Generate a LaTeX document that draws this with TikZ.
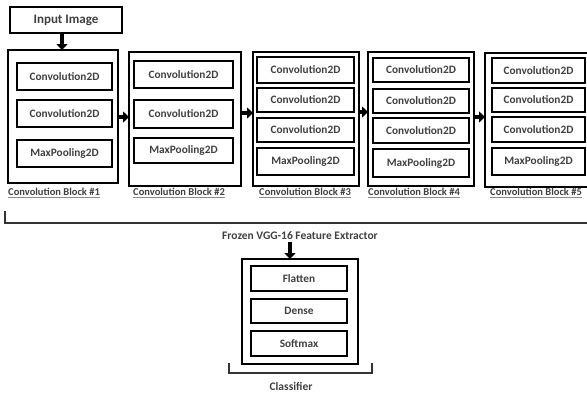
\documentclass[tikz,border=0pt]{standalone}
\usepackage{fontspec}
\setmainfont{Carlito}
\usetikzlibrary{arrows.meta}
\begin{document}
\begin{tikzpicture}[x=1pt,y=-1pt,
  outerbox/.style={draw,line width=2.2pt,inner sep=0pt,outer sep=0pt,anchor=north west},
  innerbox/.style={draw,line width=1.6pt,inner sep=0pt,outer sep=0pt,anchor=north west,font=\bfseries\fontsize{11.3}{12}\selectfont,text=black!75},
  blocklabel/.style={anchor=north west,inner sep=0pt,font=\bfseries\fontsize{10.5}{11}\selectfont,text=black!75},
  labelline/.style={line width=0.8pt,black!45},
  thickarrow/.style={line width=4pt,-{Triangle[width=11pt,length=6pt]}},
  brack/.style={line width=1.5pt,black!80}]
\useasboundingbox (0,0) rectangle (587,392);
% input
\node[innerbox,line width=1.8pt,minimum width=112,minimum height=26,font=\bfseries\fontsize{13}{14}\selectfont] (in) at (10,7) {Input Image};
% block 1
\node[outerbox,minimum width=110,minimum height=133] (b1) at (8,50) {};
\node[innerbox,minimum width=95,minimum height=27] (b1a) at (17,63) {Convolution2D};
\node[innerbox,minimum width=95,minimum height=27] (b1b) at (17,100) {Convolution2D};
\node[innerbox,minimum width=95,minimum height=27] (b1c) at (17,140) {MaxPooling2D};
\node[blocklabel] (l1) at (8,188) {Convolution Block \#1};
% block 2
\node[outerbox,minimum width=112,minimum height=134] (b2) at (129,52) {};
\node[innerbox,minimum width=99,minimum height=27] (b2a) at (134,61) {Convolution2D};
\node[innerbox,minimum width=99,minimum height=28] (b2b) at (134,100) {Convolution2D};
\node[innerbox,minimum width=99,minimum height=25] (b2c) at (134,138) {MaxPooling2D};
\node[blocklabel] (l2) at (133,188) {Convolution Block \#2};
% block 3
\node[outerbox,minimum width=106,minimum height=134] (b3) at (253,52) {};
\node[innerbox,minimum width=97,minimum height=26] (b3a) at (257,57) {Convolution2D};
\node[innerbox,minimum width=97,minimum height=24] (b3b) at (257,88) {Convolution2D};
\node[innerbox,minimum width=97,minimum height=24] (b3c) at (257,118) {Convolution2D};
\node[innerbox,minimum width=97,minimum height=27] (b3d) at (257,148) {MaxPooling2D};
\node[blocklabel] (l3) at (259,188) {Convolution Block \#3};
% block 4
\node[outerbox,minimum width=106,minimum height=134] (b4) at (368,52) {};
\node[innerbox,minimum width=96,minimum height=24] (b4a) at (373,58) {Convolution2D};
\node[innerbox,minimum width=96,minimum height=24] (b4b) at (373,89) {Convolution2D};
\node[innerbox,minimum width=96,minimum height=25] (b4c) at (373,118) {Convolution2D};
\node[innerbox,minimum width=96,minimum height=28] (b4d) at (373,149) {MaxPooling2D};
\node[blocklabel] (l4) at (368,188) {Convolution Block \#4};
% block 5
\node[outerbox,minimum width=110,minimum height=134] (b5) at (485,53) {};
\node[innerbox,minimum width=93,minimum height=25] (b5a) at (492,58) {Convolution2D};
\node[innerbox,minimum width=93,minimum height=24] (b5b) at (492,88) {Convolution2D};
\node[innerbox,minimum width=93,minimum height=25] (b5c) at (492,117) {Convolution2D};
\node[innerbox,minimum width=93,minimum height=27] (b5d) at (492,148) {MaxPooling2D};
\node[blocklabel] (l5) at (490,188) {Convolution Block \#5};
\foreach \l in {l1,l2,l3,l4,l5}
  \draw[labelline] ([yshift=-1.5pt]\l.south west) -- ([yshift=-1.5pt]\l.south east);
% arrows
\draw[thickarrow] (in.south -| 62,0) -- (b1.north -| 62,0);
\draw[thickarrow] (b1.east |- 0,117) -- (b2.west |- 0,117);
\draw[thickarrow] (b2.east |- 0,113) -- (b3.west |- 0,113);
\draw[thickarrow] (b3.east |- 0,112) -- (b4.west |- 0,112);
\draw[thickarrow] (b4.east |- 0,117) -- (b5.west |- 0,117);
% feature extractor bracket
\coordinate (fl) at (5,211);
\coordinate (fr) at (590,223);
\draw[brack] (fl) -- (fl |- fr) -- (fr);
\node[inner sep=0pt,font=\bfseries\fontsize{11.5}{12}\selectfont,text=black!75] (fx) at (300,236) {Frozen VGG-16 Feature Extractor};
% classifier
\node[outerbox,minimum width=116,minimum height=105] (cl) at (242,259) {};
\node[innerbox,minimum width=96,minimum height=25] (ca) at (251,266) {Flatten};
\node[innerbox,minimum width=96,minimum height=24] (cb) at (251,299) {Dense};
\node[innerbox,minimum width=96,minimum height=25] (cc) at (251,331) {Softmax};
\draw[thickarrow] ([yshift=-2pt]fx.south -| 290,0) -- (cl.north -| 290,0);
\coordinate (cbl) at (229,363);
\coordinate (cbr) at (372,373);
\draw[brack] (cbl) -- (cbl |- cbr) -- (cbr) -- (cbr |- cbl);
\node[inner sep=0pt,font=\bfseries\fontsize{11.5}{12}\selectfont,text=black!75] (clab) at (291,386) {Classifier};
\end{tikzpicture}
\end{document}
